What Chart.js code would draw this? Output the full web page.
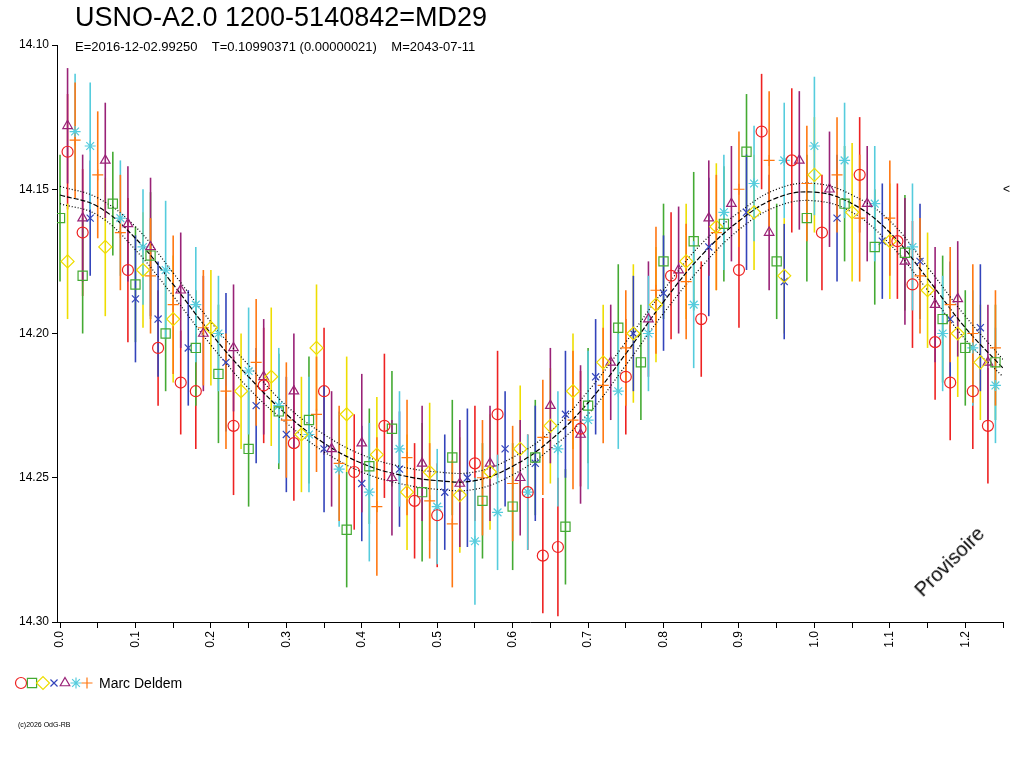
<!DOCTYPE html>
<html>
<head>
<meta charset="utf-8">
<script src="https://cdn.jsdelivr.net/npm/chart.js@4"></script>
<style>
  body { margin: 0; background: #fff; font-family: "Liberation Sans", Arial, sans-serif; }
  #wrap { position: relative; width: 1024px; height: 768px; overflow: hidden; }
  canvas { position: absolute; left: 0; top: 0; }
  .txt { position: absolute; color: #000; white-space: pre; }
</style>
</head>
<body>
<div id="wrap">
  <canvas id="lc" width="1024" height="768"></canvas>
  <div class="txt" style="left:75px; top:2px; font-size:27px;">USNO-A2.0 1200-5140842=MD29</div>
  <div class="txt" style="left:75px; top:39px; font-size:13px;">E=2016-12-02.99250    T=0.10990371 (0.00000021)    M=2043-07-11</div>
  <div class="txt" style="left:99px; top:675px; font-size:14px;">Marc Deldem</div>
  <div class="txt" style="left:18px; top:721px; font-size:7px;">(c)2026 OdG-RB</div>
  <div class="txt" style="left:1003px; top:182px; font-size:12px;">&lt;</div>
  <div class="txt" style="left:910px; top:585px; font-size:20px; transform: rotate(-45deg); transform-origin: left top;">Provisoire</div>
</div>
<script>
// phase ticks (labelled every 0.1)
const phaseTicks = [0, 0.05, 0.1, 0.15, 0.2, 0.25, 0.3, 0.35, 0.4, 0.45, 0.5, 0.55, 0.6, 0.65, 0.7, 0.75, 0.8, 0.85, 0.9, 0.95, 1.0, 1.05, 1.1, 1.15, 1.2, 1.25];
const phaseLabels = ['0.0', '', '0.1', '', '0.2', '', '0.3', '', '0.4', '', '0.5', '', '0.6', '', '0.7', '', '0.8', '', '0.9', '', '1.0', '', '1.1', '', '1.2', ''];

// fitted light curve (phase, mag) and its envelope
const fitPhase = [0, 0.05, 0.1, 0.15, 0.2, 0.25, 0.3, 0.35, 0.4, 0.45, 0.5, 0.55, 0.6, 0.65, 0.7, 0.75, 0.8, 0.85, 0.9, 0.95, 1.0, 1.05, 1.1, 1.15, 1.2, 1.25];
const fitMag = [14.152, 14.156, 14.167, 14.183, 14.200, 14.215, 14.228, 14.238, 14.245, 14.249, 14.251, 14.251, 14.246, 14.237, 14.224, 14.207, 14.189, 14.173, 14.161, 14.153, 14.151, 14.155, 14.165, 14.181, 14.198, 14.212];
const fitUpper = [14.149, 14.153, 14.163, 14.179, 14.196, 14.211, 14.225, 14.235, 14.242, 14.246, 14.248, 14.248, 14.243, 14.234, 14.220, 14.203, 14.185, 14.169, 14.158, 14.150, 14.148, 14.152, 14.161, 14.177, 14.194, 14.209];
const fitLower = [14.155, 14.159, 14.171, 14.187, 14.204, 14.219, 14.231, 14.241, 14.248, 14.252, 14.254, 14.254, 14.249, 14.240, 14.228, 14.211, 14.193, 14.177, 14.164, 14.156, 14.154, 14.158, 14.169, 14.185, 14.202, 14.215];

// observations: [phase, mag, error]
const redObs = [[0.01,14.137,0.02],[0.03,14.165,0.022],[0.09,14.178,0.025],[0.13,14.205,0.02],[0.16,14.217,0.018],[0.18,14.22,0.02],[0.23,14.232,0.024],[0.27,14.218,0.02],[0.31,14.238,0.02],[0.35,14.22,0.022],[0.39,14.248,0.02],[0.43,14.232,0.025],[0.47,14.258,0.02],[0.5,14.263,0.018],[0.55,14.245,0.02],[0.58,14.228,0.022],[0.62,14.255,0.02],[0.64,14.277,0.02],[0.66,14.274,0.024],[0.69,14.233,0.02],[0.75,14.215,0.02],[0.81,14.18,0.022],[0.85,14.195,0.02],[0.9,14.178,0.02],[0.93,14.13,0.02],[0.97,14.14,0.025],[1.01,14.165,0.02],[1.06,14.145,0.02],[1.11,14.168,0.02],[1.13,14.183,0.022],[1.16,14.203,0.02],[1.18,14.217,0.02],[1.21,14.22,0.02],[1.23,14.232,0.02]];
const greenObs = [[0.0,14.16,0.022],[0.03,14.18,0.02],[0.07,14.155,0.018],[0.1,14.183,0.02],[0.12,14.173,0.022],[0.14,14.2,0.02],[0.18,14.205,0.02],[0.21,14.214,0.024],[0.25,14.24,0.02],[0.29,14.227,0.02],[0.33,14.23,0.022],[0.38,14.268,0.02],[0.41,14.246,0.02],[0.44,14.233,0.02],[0.48,14.255,0.024],[0.52,14.243,0.02],[0.56,14.258,0.02],[0.6,14.26,0.022],[0.63,14.243,0.02],[0.67,14.267,0.02],[0.7,14.225,0.02],[0.74,14.198,0.022],[0.77,14.21,0.02],[0.8,14.175,0.02],[0.84,14.168,0.024],[0.88,14.162,0.02],[0.91,14.137,0.02],[0.95,14.175,0.02],[0.99,14.16,0.022],[1.04,14.155,0.02],[1.08,14.17,0.02],[1.12,14.172,0.02],[1.17,14.195,0.022],[1.2,14.205,0.02],[1.24,14.21,0.02]];
const yellowObs = [[0.01,14.175,0.02],[0.06,14.17,0.024],[0.11,14.178,0.02],[0.15,14.195,0.022],[0.2,14.198,0.02],[0.24,14.22,0.02],[0.28,14.215,0.024],[0.32,14.235,0.02],[0.34,14.205,0.022],[0.38,14.228,0.02],[0.42,14.242,0.02],[0.46,14.255,0.02],[0.49,14.248,0.024],[0.53,14.256,0.02],[0.57,14.248,0.02],[0.61,14.24,0.022],[0.65,14.232,0.02],[0.68,14.22,0.02],[0.72,14.21,0.02],[0.76,14.2,0.024],[0.79,14.19,0.02],[0.83,14.175,0.02],[0.87,14.163,0.022],[0.92,14.158,0.02],[0.96,14.18,0.02],[1.0,14.145,0.02],[1.05,14.158,0.024],[1.1,14.168,0.02],[1.15,14.185,0.02],[1.19,14.2,0.022],[1.22,14.21,0.02]];
const blueObs = [[0.04,14.16,0.02],[0.1,14.188,0.022],[0.13,14.195,0.02],[0.17,14.205,0.02],[0.22,14.21,0.024],[0.26,14.225,0.02],[0.3,14.235,0.02],[0.35,14.24,0.022],[0.4,14.252,0.02],[0.45,14.247,0.02],[0.51,14.255,0.02],[0.54,14.25,0.024],[0.59,14.24,0.02],[0.63,14.245,0.02],[0.67,14.228,0.022],[0.71,14.215,0.02],[0.76,14.2,0.02],[0.8,14.186,0.02],[0.86,14.17,0.024],[0.91,14.158,0.02],[0.96,14.182,0.02],[1.03,14.16,0.022],[1.09,14.168,0.02],[1.14,14.175,0.02],[1.18,14.195,0.02],[1.22,14.198,0.022]];
const purpleObs = [[0.01,14.128,0.02],[0.03,14.16,0.022],[0.06,14.14,0.02],[0.09,14.162,0.02],[0.12,14.17,0.024],[0.16,14.185,0.02],[0.19,14.2,0.02],[0.23,14.205,0.022],[0.27,14.215,0.02],[0.31,14.22,0.02],[0.36,14.24,0.02],[0.4,14.238,0.024],[0.44,14.25,0.02],[0.48,14.245,0.02],[0.53,14.252,0.022],[0.57,14.245,0.02],[0.61,14.25,0.02],[0.65,14.225,0.02],[0.69,14.235,0.024],[0.73,14.21,0.02],[0.78,14.195,0.02],[0.82,14.178,0.022],[0.86,14.16,0.02],[0.89,14.155,0.02],[0.94,14.165,0.02],[0.98,14.14,0.024],[1.02,14.15,0.02],[1.07,14.155,0.02],[1.12,14.175,0.022],[1.16,14.19,0.02],[1.19,14.188,0.02],[1.23,14.21,0.02]];
const cyanObs = [[0.02,14.13,0.02],[0.04,14.135,0.022],[0.08,14.16,0.02],[0.11,14.17,0.02],[0.14,14.178,0.024],[0.18,14.19,0.02],[0.21,14.2,0.02],[0.25,14.213,0.022],[0.29,14.225,0.02],[0.33,14.235,0.02],[0.37,14.247,0.02],[0.41,14.255,0.024],[0.45,14.24,0.02],[0.5,14.26,0.02],[0.55,14.272,0.022],[0.58,14.262,0.02],[0.62,14.255,0.02],[0.66,14.24,0.02],[0.7,14.23,0.024],[0.74,14.22,0.02],[0.78,14.2,0.02],[0.84,14.19,0.022],[0.88,14.158,0.02],[0.92,14.148,0.02],[0.96,14.14,0.02],[1.0,14.135,0.024],[1.04,14.14,0.02],[1.08,14.155,0.02],[1.13,14.17,0.022],[1.17,14.2,0.02],[1.21,14.205,0.02],[1.24,14.218,0.02]];
const orangeObs = [[0.02,14.133,0.02],[0.05,14.145,0.022],[0.08,14.165,0.02],[0.12,14.18,0.02],[0.15,14.19,0.024],[0.19,14.198,0.02],[0.22,14.22,0.02],[0.26,14.21,0.022],[0.3,14.23,0.02],[0.34,14.228,0.02],[0.37,14.245,0.02],[0.42,14.26,0.024],[0.46,14.243,0.02],[0.49,14.258,0.02],[0.52,14.266,0.022],[0.56,14.25,0.02],[0.6,14.252,0.02],[0.64,14.236,0.02],[0.68,14.23,0.024],[0.72,14.218,0.02],[0.75,14.205,0.02],[0.79,14.185,0.022],[0.83,14.182,0.02],[0.87,14.165,0.02],[0.9,14.15,0.02],[0.94,14.14,0.024],[0.99,14.148,0.02],[1.03,14.145,0.02],[1.06,14.16,0.022],[1.1,14.16,0.02],[1.14,14.18,0.02],[1.18,14.19,0.02],[1.21,14.2,0.024],[1.24,14.205,0.02]];

const seriesList = [
    { obs: redObs, color: '#ee2222', style: 'circle', r: 5.5 },
    { obs: greenObs, color: '#44aa33', style: 'rect', r: 6.5 },
    { obs: yellowObs, color: '#eedd00', style: 'rectRot', r: 6.5 },
    { obs: blueObs, color: '#3344bb', style: 'crossRot', r: 5 },
    { obs: purpleObs, color: '#992277', style: 'triangle', r: 5.5 },
    { obs: cyanObs, color: '#55ccdd', style: 'star', r: 5.5 },
    { obs: orangeObs, color: '#ff7711', style: 'cross', r: 5.5 }
];

// vertical error bars drawn through the scales
const errorBars = {
    id: 'errorBars',
    beforeDatasetsDraw(chart) {
        const ctx = chart.ctx;
        const y = chart.scales.y;
        ctx.save();
        chart.data.datasets.forEach((ds, i) => {
            if (!ds.errs) return;
            const meta = chart.getDatasetMeta(i);
            ctx.strokeStyle = ds.borderColor;
            ctx.lineWidth = 1.6;
            meta.data.forEach((pt, j) => {
                const v = ds.data[j].y, e = ds.errs[j];
                ctx.beginPath();
                ctx.moveTo(pt.x, y.getPixelForValue(v - e));
                ctx.lineTo(pt.x, y.getPixelForValue(v + e));
                ctx.stroke();
            });
        });
        ctx.restore();
    }
};

// little marker row in front of observer name
const legendRow = {
    id: 'legendRow',
    afterDraw(chart) {
        const ctx = chart.ctx;
        seriesList.forEach((s, i) => {
            ctx.save();
            ctx.strokeStyle = s.color;
            ctx.fillStyle = 'rgba(0,0,0,0)';
            ctx.lineWidth = 1.2;
            Chart.helpers.drawPoint(ctx, { pointStyle: s.style, radius: s.r, rotation: 0, borderWidth: 1.2 }, 21 + i * 11, 683);
            ctx.restore();
        });
    }
};

const datasets = seriesList.map(s => ({
    type: 'scatter',
    data: s.obs.map(o => ({ x: o[0], y: o[1] })),
    errs: s.obs.map(o => o[2]),
    borderColor: s.color,
    backgroundColor: 'rgba(0,0,0,0)',
    pointStyle: s.style,
    pointRadius: s.r,
    pointBorderWidth: 1.2
}));

[[fitMag, [5, 2]], [fitUpper, [1, 2]], [fitLower, [1, 2]]].forEach(([mags, dash]) => {
    datasets.push({
        type: 'line',
        data: fitPhase.map((p, i) => ({ x: p, y: mags[i] })),
        borderColor: '#000',
        borderWidth: 1.2,
        borderDash: dash,
        pointRadius: 0,
        tension: 0.4,
        fill: false
    });
});

new Chart(document.getElementById('lc'), {
    data: { datasets },
    options: {
        responsive: false,
        animation: false,
        layout: { padding: { top: 45, right: 21, left: 0, bottom: 0 } },
        plugins: { legend: { display: false }, tooltip: { enabled: false } },
        scales: {
            x: {
                type: 'linear', min: -0.004, max: 1.25,
                afterFit(scale) { scale.height = 146; },
                afterBuildTicks(scale) { scale.ticks = phaseTicks.map(v => ({ value: v })); },
                grid: { drawOnChartArea: false, color: '#000', tickLength: 6, tickColor: '#000' },
                border: { color: '#000', width: 1 },
                ticks: {
                    autoSkip: false, color: '#000', font: { size: 12 }, minRotation: 90, maxRotation: 90,
                    callback: (v, i) => phaseLabels[i]
                }
            },
            y: {
                type: 'linear', min: 14.10, max: 14.30, reverse: true,
                afterFit(scale) { scale.width = 57; },
                grid: { drawOnChartArea: false, color: '#000', tickLength: 5, tickColor: '#000' },
                border: { color: '#000', width: 1 },
                ticks: { stepSize: 0.05, color: '#000', font: { size: 12 }, callback: v => v.toFixed(2) }
            }
        }
    },
    plugins: [errorBars, legendRow]
});
</script>
</body>
</html>
